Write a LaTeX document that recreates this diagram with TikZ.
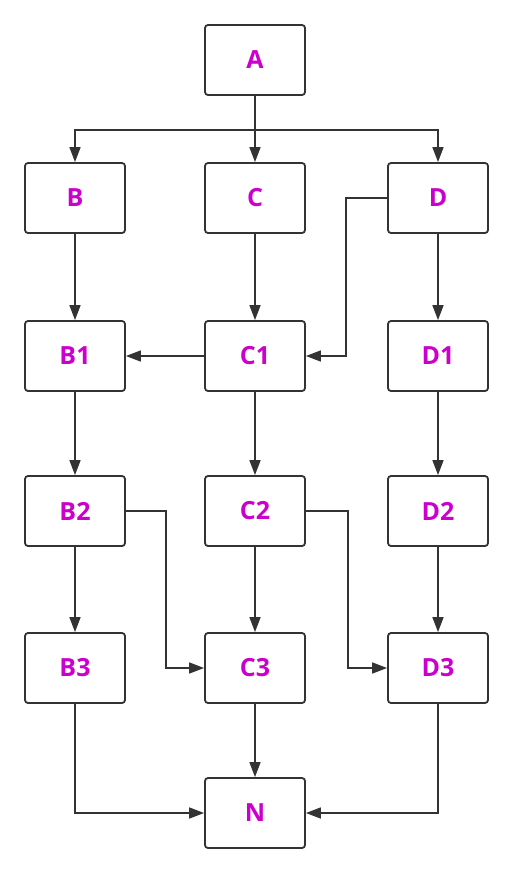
\documentclass[tikz,border=0pt]{standalone}
\usepackage{fontspec}
\setmainfont{Open Sans}
\usepackage{xcolor}
\usepackage{tikz}
\usetikzlibrary{arrows.meta}
\definecolor{labmag}{RGB}{204,0,204}
\definecolor{edgegray}{RGB}{51,51,51}

\begin{document}
\begin{tikzpicture}[
    x=1pt, y=-1pt,
    box/.style ={draw=edgegray, line width=1.8pt, rounded corners=3pt, fill=white,
                 minimum width=100pt, minimum height=70pt, inner sep=0pt,
                 text=labmag, font=\fontsize{25}{30}\selectfont\bfseries},
    link/.style={draw=edgegray, line width=1.6pt, -{Triangle[length=15pt,width=11pt]}},
  ]
  \useasboundingbox (0,0) rectangle (513,873);
  % ---- columns and rows (pixel grid of the sheet) ----
  \def\cB{75} \def\cC{255} \def\cD{438}
  \def\rA{60} \def\rB{198} \def\rC{356} \def\rD{511} \def\rE{668} \def\rF{813}

  % ---- boxes ----
  \node[box] (a)  at (\cC,\rA) {A};
  \node[box] (b)  at (\cB,\rB) {B};
  \node[box] (c)  at (\cC,\rB) {C};
  \node[box] (d)  at (\cD,\rB) {D};
  \node[box] (b1) at (\cB,\rC) {B1};
  \node[box] (c1) at (\cC,\rC) {C1};
  \node[box] (d1) at (\cD,\rC) {D1};
  \node[box] (b2) at (\cB,\rD) {B2};
  \node[box] (c2) at (\cC,\rD) {C2};
  \node[box] (d2) at (\cD,\rD) {D2};
  \node[box] (b3) at (\cB,\rE) {B3};
  \node[box] (c3) at (\cC,\rE) {C3};
  \node[box] (d3) at (\cD,\rE) {D3};
  \node[box] (n)  at (\cC,\rF) {N};

  % ---- fan out from A ----
  \coordinate (split) at (\cC,130);
  \draw[link] (a) -- (c);
  \draw[link] (a.south) -- (split) -| (b);
  \draw[link] (a.south) -- (split) -| (d);

  % ---- straight columns ----
  \draw[link] (b) -- (b1);
  \draw[link] (b1) -- (b2);
  \draw[link] (b2) -- (b3);
  \draw[link] (c) -- (c1);
  \draw[link] (c1) -- (c2);
  \draw[link] (c2) -- (c3);
  \draw[link] (c3) -- (n);
  \draw[link] (d) -- (d1);
  \draw[link] (d1) -- (d2);
  \draw[link] (d2) -- (d3);
  \draw[link] (c1) -- (b1);

  % ---- elbows ----
  \draw[link] (d.west) -- ++(-41,0) |- (c1.east);
  \draw[link] (b2.east) -- ++(40,0) |- (c3.west);
  \draw[link] (c2.east) -- ++(42,0) |- (d3.west);
  \draw[link] (b3.south) |- (n.west);
  \draw[link] (d3.south) |- (n.east);
\end{tikzpicture}
\end{document}
